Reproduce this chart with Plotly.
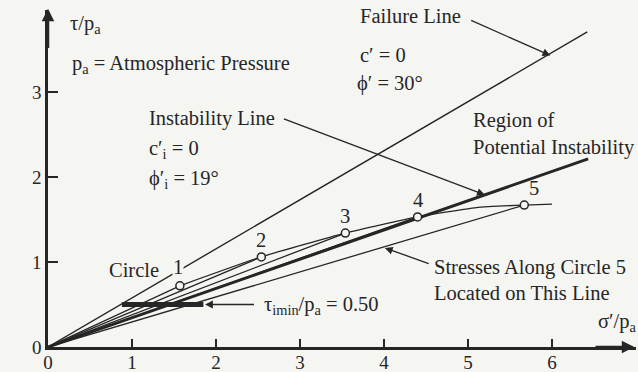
import math
import plotly.graph_objects as go

# ---------------- data ----------------
phi_failure_deg = 30
phi_instab_deg = 19
line_sigma_end = [0, 6.42]
instab_sigma_end = [0, 6.43]

circle_ids = ["1", "2", "3", "4", "5"]
circle_sigma = [1.57, 2.54, 3.54, 4.40, 5.67]
circle_tau = [0.72, 1.06, 1.34, 1.53, 1.67]

# curve through the circle points, continuing beyond circle 5
curve_sigma = [1.57, 2.54, 3.54, 4.40, 5.10, 5.67, 6.00]
curve_tau = [0.72, 1.06, 1.34, 1.53, 1.64, 1.67, 1.68]

tau_min = 0.50
tau_min_sigma = [0.88, 1.85]

x_ticks = [0, 1, 2, 3, 4, 5, 6]
y_ticks = [0, 1, 2, 3]

FONT = "Liberation Serif"
INK = "#262626"
BG = "#f5f5f2"
FS = 20.5

fig = go.Figure()

# failure line
fail_tau = [math.tan(math.radians(phi_failure_deg)) * s for s in line_sigma_end]
fig.add_trace(go.Scatter(x=line_sigma_end, y=fail_tau, mode="lines",
                         line=dict(color=INK, width=1.4), hoverinfo="skip"))
# instability line
inst_tau = [math.tan(math.radians(phi_instab_deg)) * s for s in instab_sigma_end]
fig.add_trace(go.Scatter(x=instab_sigma_end, y=inst_tau, mode="lines",
                         line=dict(color=INK, width=3), hoverinfo="skip"))
# lines from the origin to each circle point
for s, t in zip(circle_sigma, circle_tau):
    fig.add_trace(go.Scatter(x=[0, s], y=[0, t], mode="lines",
                             line=dict(color=INK, width=1.3), hoverinfo="skip"))
# curve through the points
fig.add_trace(go.Scatter(x=curve_sigma, y=curve_tau, mode="lines",
                         line=dict(color=INK, width=1.3, shape="spline", smoothing=0.5),
                         hoverinfo="skip"))
# tau_min bar
fig.add_trace(go.Scatter(x=tau_min_sigma, y=[tau_min, tau_min], mode="lines",
                         line=dict(color=INK, width=5), hoverinfo="skip"))
# circle markers
fig.add_trace(go.Scatter(x=circle_sigma, y=circle_tau, mode="markers",
                         marker=dict(symbol="circle", size=8, color=BG,
                                     line=dict(width=1.5, color=INK)),
                         hoverinfo="skip"))

ann = []
def text(x, y, t, xanchor="left", size=FS, bg=None):
    d = dict(x=x, y=y, xref="x", yref="y", text=t, showarrow=False,
             xanchor=xanchor, yanchor="middle",
             font=dict(family=FONT, size=size, color=INK))
    if bg:
        d["bgcolor"] = bg
        d["borderpad"] = 0
    ann.append(d)

def arrow(x, y, ax, ay, width=1.3, size=1.2):
    ann.append(dict(x=x, y=y, ax=ax, ay=ay, xref="x", yref="y", axref="x", ayref="y",
                    text="", showarrow=True, arrowhead=2, arrowsize=size, arrowwidth=width,
                    arrowcolor=INK))

text(0.238, 3.79, "τ/p<sub>a</sub>")
text(0.262, 3.318, "p<sub>a</sub> = Atmospheric Pressure")
text(1.18, 2.694, "Instability Line")
text(1.18, 2.318, "c′<sub>i</sub> = 0")
text(1.18, 1.965, "ϕ′<sub>i</sub> = 19°")
text(3.69, 3.894, "Failure Line")
text(3.69, 3.435, "c′ = 0")
text(3.65, 3.106, "ϕ′ = 30°")
text(5.03, 2.67, "Region of")
text(5.03, 2.353, "Potential Instability")
text(4.57, 0.94, "Stresses Along Circle 5")
text(4.57, 0.635, "Located on This Line")
text(2.55, 0.494, "τ<sub>imin</sub>/p<sub>a</sub> = 0.50")
text(6.52, 0.294, "σ′/p<sub>a</sub>")
text(0.70, 0.906, "Circle")
for cid, s, t in zip(circle_ids, circle_sigma, circle_tau):
    if cid == "1":
        text(s - 0.02, t + 0.22, cid, xanchor="center", bg=BG)
    else:
        text(s + (0.12 if cid == "5" else 0), t + 0.2, cid, xanchor="center")

arrow(5.98, 3.43, 5.02, 3.85)
arrow(5.20, 1.79, 2.79, 2.69)
arrow(4.01, 1.165, 4.55, 0.976)
arrow(1.87, tau_min, 2.47, tau_min)
# axis arrows
arrow(0, 3.98, 0, 3.5, width=2.5, size=1.0)
arrow(6.98, 0, 6.5, 0, width=2.5, size=1.0)

fig.update_layout(
    width=638, height=372,
    margin=dict(l=48, r=2, t=10, b=25),
    paper_bgcolor=BG, plot_bgcolor=BG,
    showlegend=False,
    annotations=ann,
    xaxis=dict(range=[0, 7.0], tickvals=x_ticks, ticktext=[str(v) for v in x_ticks],
               ticks="inside", ticklen=8, tickwidth=1.5, tickcolor=INK,
               showline=True, linewidth=2.5, linecolor=INK, showgrid=False,
               zeroline=False, automargin=False, ticklabelstandoff=-4,
               tickfont=dict(family=FONT, size=19, color=INK)),
    yaxis=dict(range=[0, 3.965], tickvals=y_ticks, ticktext=[str(v) for v in y_ticks],
               ticks="inside", ticklen=10, tickwidth=1.5, tickcolor=INK,
               showline=True, linewidth=2.5, linecolor=INK, showgrid=False,
               zeroline=False, automargin=False,
               tickfont=dict(family=FONT, size=19, color=INK)),
)

fig.write_html("out.html",
               config={"displayModeBar": False},
               post_script="document.body.style.margin='0';"
                           "document.body.style.background='" + BG + "';")
